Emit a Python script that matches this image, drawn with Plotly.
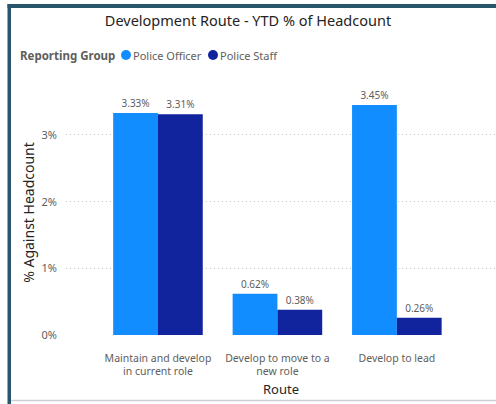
import plotly.graph_objects as go

routes = ["Maintain and develop<br>in current role", "Develop to move to a<br>new role", "Develop to lead"]
officer = [0.0333, 0.0062, 0.0345]
staff = [0.0331, 0.0038, 0.0026]
series_names = ["Police Officer", "Police Staff"]
colors = ["#118DFF", "#12239E"]
legend_title = "Reporting Group"

W, H = 496, 404
L, R, T, B = 66, 0, 90, 69
pw, ph = W - L - R, H - T - B

def px(x):
    return (x - L) / pw

def py(y):
    return (H - B - y) / ph

FONT = "Segoe UI, Noto Sans, sans-serif"

fig = go.Figure()
for name, vals, c in zip(series_names, [officer, staff], colors):
    fig.add_trace(go.Bar(
        x=routes, y=vals, name=name, marker_color=c, marker_line_width=0,
        text=[f"{v*100:.2f}%" for v in vals], textposition="outside",
        textfont=dict(size=10, color="#605E5C", family=FONT),
        cliponaxis=False, showlegend=False,
    ))

fig.update_layout(
    width=W, height=H,
    margin=dict(l=L, r=R, t=T, b=B, autoexpand=False),
    paper_bgcolor="white", plot_bgcolor="white",
    barmode="group", bargap=0.25, bargroupgap=0,
    font=dict(family=FONT, color="#605E5C"),
    title=dict(text="Development Route - YTD % of Headcount", x=0.5, xanchor="center",
               y=1 - 21 / H, yanchor="middle",
               font=dict(size=14.5, color="#252423", family=FONT)),
    showlegend=False,
)
fig.update_xaxes(range=[-0.77, 2.83], showgrid=False, showline=False, zeroline=False,
                 tickfont=dict(size=10.5, color="#605E5C"), ticks="", ticklabelstandoff=15,
                 title=dict(text="Route", font=dict(size=13, color="#252423"), standoff=7))
fig.update_yaxes(range=[0, ph / 6667], tickformat=".0%", dtick=0.01,
                 showgrid=True, gridcolor="#C8C6C4", griddash="1px,3px", gridwidth=1,
                 zeroline=False, showline=False, ticks="", ticklabelstandoff=8,
                 tickfont=dict(size=11, color="#605E5C"),
                 title=dict(text="% Against Headcount", font=dict(size=14, color="#252423"), standoff=3))

# legend drawn as header row
fig.add_annotation(xref="paper", yref="paper", x=px(18), y=py(55), xanchor="left", yanchor="middle",
                   text=f"<b>{legend_title}</b>", showarrow=False,
                   font=dict(size=11.5, color="#605E5C", family=FONT))
leg_x = [126, 213]
for name, c, lx in zip(series_names, colors, leg_x):
    fig.add_shape(type="circle", xref="paper", yref="paper",
                  x0=px(lx - 5), x1=px(lx + 5), y0=py(60), y1=py(50),
                  fillcolor=c, line_width=0)
    fig.add_annotation(xref="paper", yref="paper", x=px(lx + 5), y=py(55), xanchor="left", yanchor="middle",
                       text=name, showarrow=False, font=dict(size=11, color="#605E5C", family=FONT))

# border frame
fig.add_shape(type="rect", xref="paper", yref="paper", x0=px(7.5), x1=px(11), y0=py(404), y1=py(4),
              fillcolor="#28566A", line_width=0, layer="above")
fig.add_shape(type="rect", xref="paper", yref="paper", x0=px(7.5), x1=px(496), y0=py(8), y1=py(4),
              fillcolor="#28566A", line_width=0, layer="above")
fig.add_shape(type="line", xref="paper", yref="paper", x0=px(11), x1=px(496), y0=py(400.5), y1=py(400.5),
              line=dict(color="#C8D0D4", width=1.5), layer="above")

fig.write_html("out.html")
